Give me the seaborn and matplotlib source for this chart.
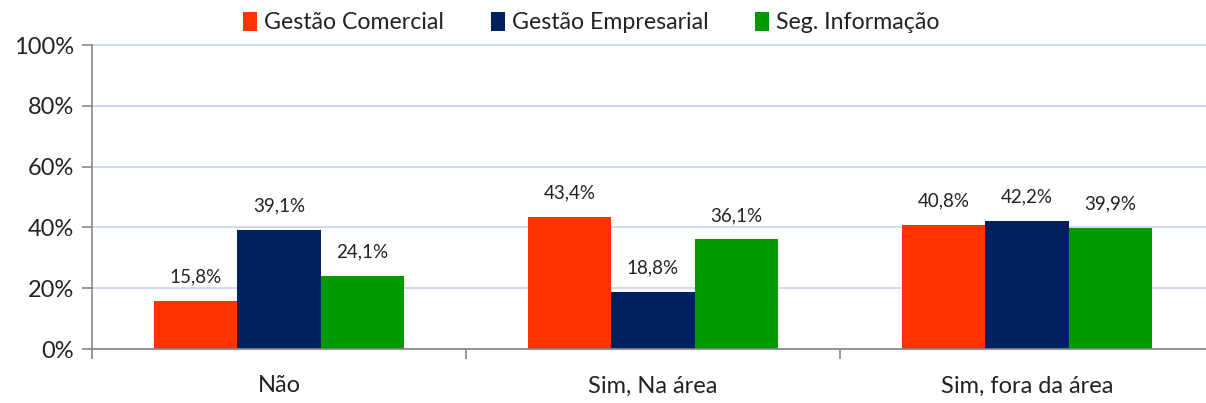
import matplotlib
matplotlib.use("Agg")
import matplotlib.pyplot as plt
import seaborn as sns
import pandas as pd
from matplotlib.ticker import FuncFormatter, FixedLocator

categories = ["Não", "Sim, Na área", "Sim, fora da área"]
series = ["Gestão Comercial", "Gestão Empresarial", "Seg. Informação"]
gestao_comercial = [15.8, 43.4, 40.8]
gestao_empresarial = [39.1, 18.8, 42.2]
seg_informacao = [24.1, 36.1, 39.9]
colors = ["#FF3300", "#002060", "#009900"]

rows = []
for s, vals in zip(series, [gestao_comercial, gestao_empresarial, seg_informacao]):
    for c, v in zip(categories, vals):
        rows.append({"cat": c, "serie": s, "val": v})
df = pd.DataFrame(rows)

sns.set_theme(style="white")
plt.rcParams['font.family'] = ['Lato', 'DejaVu Sans']

fig = plt.figure(figsize=(12.06, 4.03), dpi=100)
ax = fig.add_axes([92/1206, 1-349/403, (1214-92)/1206, (349-45)/403])

sns.barplot(data=df, x="cat", y="val", hue="serie", palette=colors,
            order=categories, hue_order=series, width=0.67, ax=ax,
            saturation=1, errorbar=None, legend=True, linewidth=0)

for cont in ax.containers:
    for bar in cont:
        h = bar.get_height()
        ax.annotate(f"{h:.1f}%".replace(".", ","),
                    (bar.get_x() + bar.get_width()/2, h),
                    xytext=(0, 11), textcoords="offset points",
                    ha="center", va="bottom", fontsize=13.5, color="#222222")

ax.set_ylim(0, 100)
ax.set_xlim(-0.5, 2.5)
ax.set_yticks([0, 20, 40, 60, 80, 100])
ax.yaxis.set_major_formatter(FuncFormatter(lambda v, p: f"{int(v)}%"))
ax.grid(axis="y", color="#C3D0F2", linewidth=1.1)
for gl in ax.get_ygridlines():
    gl.set_clip_on(False)
ax.set_axisbelow(True)
ax.set_xlabel("")
ax.set_ylabel("")

for side in ["top", "right"]:
    ax.spines[side].set_visible(False)
for side in ["left", "bottom"]:
    ax.spines[side].set_color("#888888")
    ax.spines[side].set_linewidth(1.2)

ax.tick_params(axis="y", which="major", left=True, length=7, width=1.2,
               color="#888888", labelsize=17, labelcolor="#222222", pad=6)
ax.tick_params(axis="x", which="major", bottom=False, labelsize=17,
               labelcolor="#222222", pad=13)
ax.xaxis.set_minor_locator(FixedLocator([-0.5, 0.5, 1.5, 2.5]))
ax.tick_params(axis="x", which="minor", bottom=True, length=7, width=1.2,
               color="#888888")

handles, labels = ax.get_legend_handles_labels()
ax.legend(handles, labels, loc="lower center", bbox_to_anchor=(0.445, 1.0),
          ncol=3, frameon=False, fontsize=16.7, handlelength=0.6,
          handleheight=0.9, handletextpad=0.3, columnspacing=2.0,
          borderaxespad=0.1, labelcolor="#222222")

fig.savefig("out.png", dpi=100)
